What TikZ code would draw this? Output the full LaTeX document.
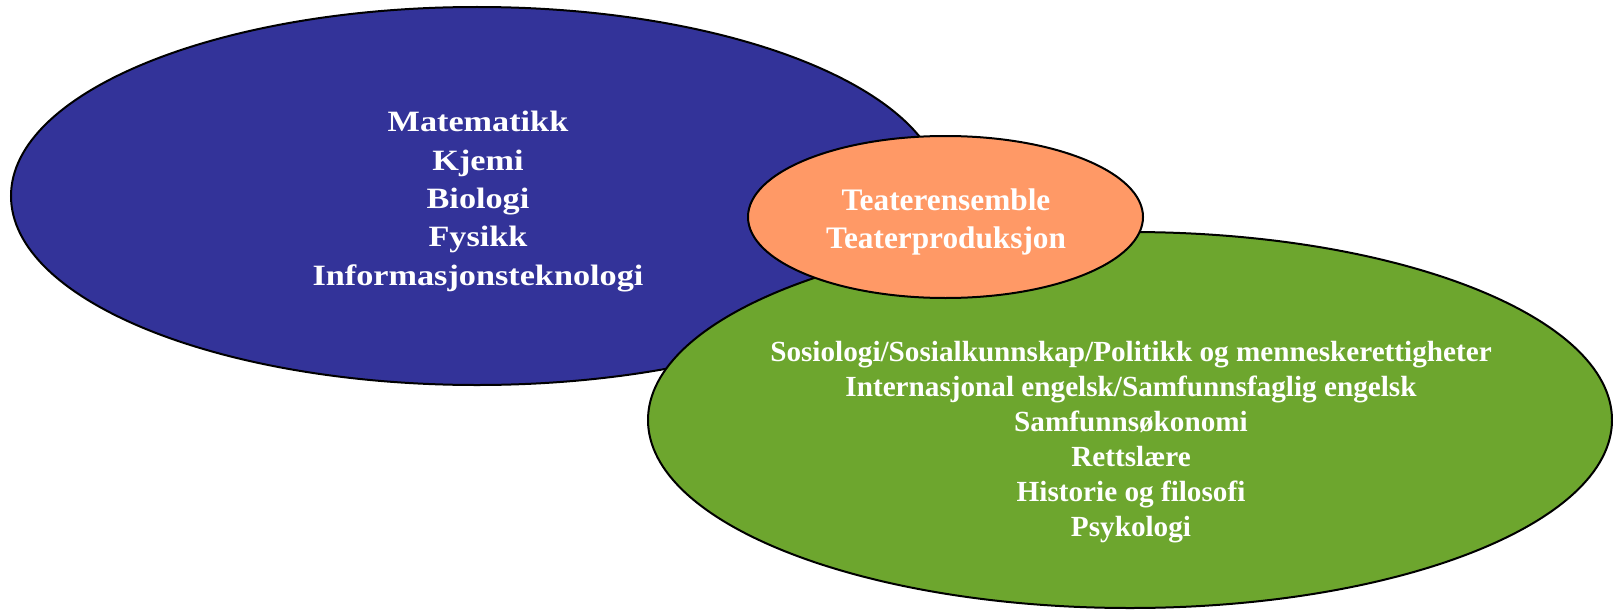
\documentclass[tikz,border=0pt]{standalone}
\usepackage{fontspec}
\usetikzlibrary{shapes.geometric}
\setmainfont{Liberation Serif}
\newfontfamily\bluefont[FakeStretch=1.16]{Liberation Serif}
\definecolor{bluefill}{RGB}{51,51,153}
\definecolor{greenfill}{RGB}{109,166,46}
\definecolor{orangefill}{RGB}{255,153,102}
\tikzset{
  blob/.style={ellipse, draw=black, line width=2pt, inner sep=0pt},
  bluetxt/.style={anchor=base, text=white, inner sep=0pt, font=\bluefont\bfseries\fontsize{29.5}{35}\selectfont},
  greentxt/.style={anchor=base, text=white, inner sep=0pt, font=\bfseries\fontsize{29.2}{35}\selectfont},
  orangetxt/.style={anchor=base, text=white, inner sep=0pt, font=\bfseries\fontsize{31.3}{37}\selectfont}
}
\begin{document}
\begin{tikzpicture}[x=1pt,y=-1pt]
\useasboundingbox (0,0) rectangle (1613,610);
\node[blob, fill=bluefill, minimum width=932pt, minimum height=378pt] (blue) at (477,196) {};
\node[blob, fill=greenfill, minimum width=964pt, minimum height=376pt] (green) at (1130,420) {};
\node[blob, fill=orangefill, minimum width=395pt, minimum height=162pt] (orange) at (945.5,217) {};
\node[bluetxt] (b1) at (478,131.7) {Matematikk};
\node[bluetxt] (b2) at (478,170) {Kjemi};
\node[bluetxt] (b3) at (478,208.3) {Biologi};
\node[bluetxt] (b4) at (478,246.7) {Fysikk};
\node[bluetxt] (b5) at (478,285) {Informasjonsteknologi};
\node[orangetxt] (o1) at (946,210.7) {Teaterensemble};
\node[orangetxt] (o2) at (946,248.3) {Teaterproduksjon};
\node[greentxt] (g1) at (1131,361.7) {Sosiologi/Sosialkunnskap/Politikk og menneskerettigheter};
\node[greentxt] (g2) at (1131,396.6) {Internasjonal engelsk/Samfunnsfaglig engelsk};
\node[greentxt] (g3) at (1131,431.5) {Samfunnsøkonomi};
\node[greentxt] (g4) at (1131,466.4) {Rettslære};
\node[greentxt] (g5) at (1131,501.3) {Historie og filosofi};
\node[greentxt] (g6) at (1131,536.2) {Psykologi};
\end{tikzpicture}
\end{document}
